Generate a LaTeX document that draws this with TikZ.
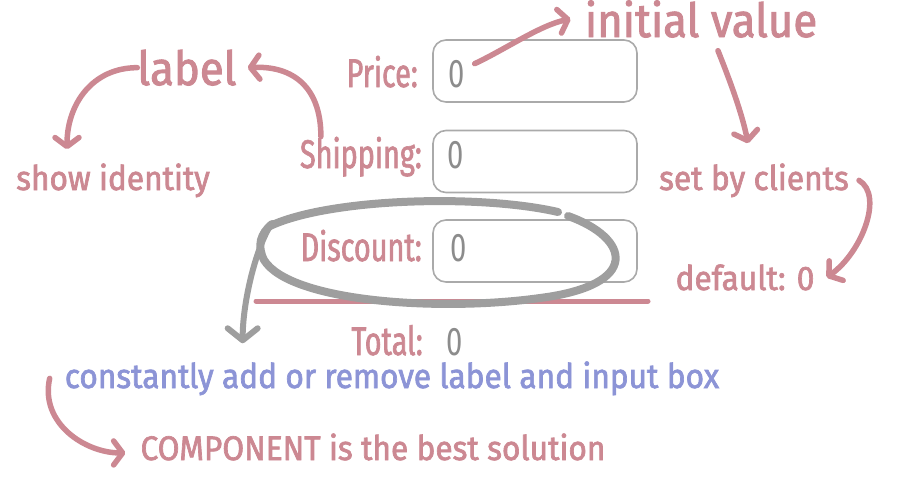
\documentclass[tikz,border=0pt]{standalone}
\usepackage{fontspec}
\usetikzlibrary{arrows.meta}
\newfontfamily\notefont[FakeStretch=0.93,FakeBold=2]{Fira Sans}
\newfontfamily\fieldfont[FakeStretch=0.72,FakeBold=1.6]{Fira Sans}
\newfontfamily\valfont[FakeStretch=0.73]{Fira Sans}
\definecolor{notepink}{RGB}{204,136,146}
\definecolor{noteblue}{RGB}{140,148,214}
\definecolor{pengray}{RGB}{158,158,158}
\definecolor{boxgray}{RGB}{170,170,170}
\definecolor{valgray}{RGB}{140,140,140}

\begin{document}
\begin{tikzpicture}[x=1pt, y=-1pt,
    note/.style={font=\notefont\fontsize{34}{37}\selectfont, text=notepink, inner sep=0pt},
    bignote/.style={note, font=\notefont\fontsize{47}{50}\selectfont},
    field/.style={font=\fieldfont\fontsize{40}{44}\selectfont, text=notepink, inner sep=0pt},
    val/.style={field, font=\valfont\fontsize{40}{44}\selectfont, text=valgray},
    inbox/.style={draw=boxgray, line width=1.6pt, rounded corners=13pt, minimum width=204pt, minimum height=62pt},
    pinkarrow/.style={draw=notepink, line width=5.5pt, line cap=round, -{Straight Barb[length=9pt,width=24pt,round]}},
    grayarrow/.style={draw=pengray, line width=6pt, line cap=round, -{Straight Barb[length=12pt,width=30pt,round]}}]
    \useasboundingbox (0,0) rectangle (907,479);

    % 入力欄
    \node[inbox] (pricebox) at (535,71) {};
    \node[inbox] (shipbox) at (535,161.5) {};
    \node[inbox] (discbox) at (535,251) {};

    % ラベルと値
    \node[field, anchor=base east] (price) at (418,87) {Price:};
    \node[field, anchor=base east] (shipping) at (422,168) {Shipping:};
    \node[field, anchor=base east] (discount) at (422,261) {Discount:};
    \node[field, anchor=base east] (total) at (423,355) {Total:};
    \node[val, anchor=base west] (pricev) at (448,87) {0};
    \node[val, anchor=base west] (shipv) at (447,168) {0};
    \node[val, anchor=base west] (discv) at (450,261) {0};
    \node[val, anchor=base west] (totalv) at (446,355) {0};

    % 合計の上の線
    \draw[notepink, line width=5pt, line cap=round] (256,301) -- (648,301);

    % 注釈
    \node[bignote, anchor=base] (lab) at (187,85) {label};
    \node[note, anchor=base] (show) at (113,190) {show identity};
    \node[bignote, anchor=base] (init) at (701,37) {initial value};
    \node[note, anchor=base] (setby) at (754,190) {set by clients};
    \node[note, anchor=base] (dflt) at (745,290) {default: 0};
    \node[note, anchor=base, text=noteblue] (const) at (392,388) {constantly add or remove label and input box};
    \node[note, anchor=base] (comp) at (373,460) {COMPONENT is the best solution};

    % 矢印
    \draw[pinkarrow] (lab.west) .. controls +(-45,0) and +(0,-45) .. ([xshift=-46pt,yshift=14pt]show.north);
    \draw[pinkarrow] ([xshift=-40pt]shipping.north) .. controls +(0,-50) and +(45,-2) .. ([xshift=11pt]lab.east);
    \draw[pinkarrow] ([xshift=10pt,yshift=10pt]pricev.east) .. controls +(30,-14) and +(-30,6) .. ([xshift=-14pt]init.west);
    \draw[pinkarrow] ([xshift=17pt,yshift=-13pt]init.south) .. controls +(12,30) and +(-6,-30) .. ([xshift=-6pt,yshift=20pt]setby.north);
    \draw[pinkarrow] ([xshift=10pt]setby.east) .. controls +(25,15) and +(35,-25) .. ([xshift=12pt]dflt.east);
    \draw[pinkarrow] ([xshift=-15pt]const.west) .. controls +(-10,45) and +(-40,0) .. ([xshift=-15pt,yshift=-6pt]comp.west);

    % 囲み
    \draw[pengray, line width=8pt, line cap=round] (270,226) coordinate (ovl) .. controls (330,198) and (480,194) .. (558,212);
    \draw[pengray, line width=8pt, line cap=round] (568,216) .. controls (630,238) and (642,285) .. (540,298)
        .. controls (440,312) and (290,302) .. (264,260) .. controls (257,246) and (260,234) .. (272,224);
    \draw[grayarrow] (ovl) .. controls +(-15,25) and +(0,-40) .. ([xshift=178pt,yshift=18pt]const.north west);
\end{tikzpicture}
\end{document}
